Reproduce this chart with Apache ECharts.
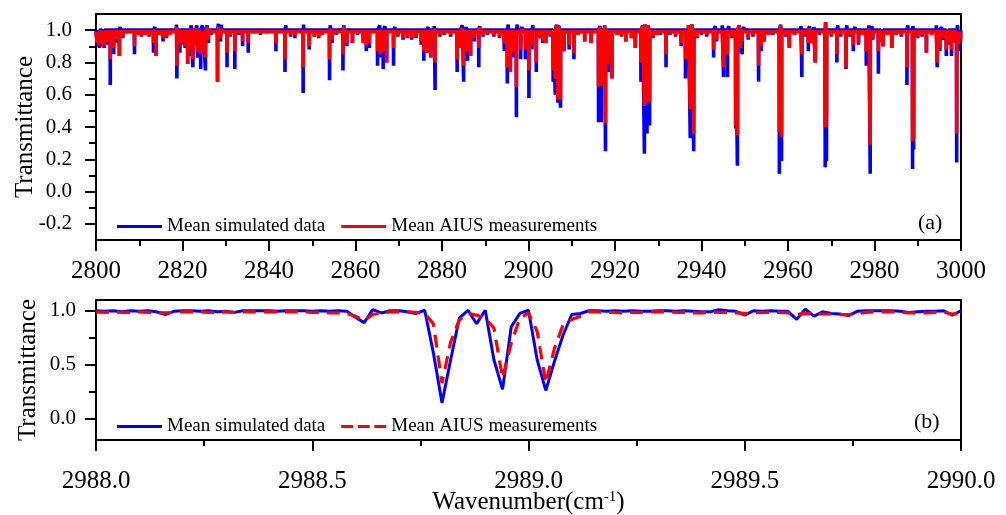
<!DOCTYPE html>
<html>
<head>
<meta charset="utf-8">
<script src="https://cdn.jsdelivr.net/npm/echarts@6/dist/echarts.min.js"></script>
<style>
html,body{margin:0;padding:0;background:#fff;}
#chart{width:1006px;height:515px;}
</style>
</head>
<body>
<div id="chart"></div>
<script>
// ---------- DATA ----------
// Panel (a): absorption lines [wavenumber, mean simulated minimum, mean AIUS minimum]
const topDips = [
[2800.3,0.90,0.92],[2800.8,0.89,0.91],[2801.4,0.90,0.92],[2801.9,0.89,0.90],[2802.5,0.91,0.93],
[2803.3,0.66,0.82],[2804.1,0.85,0.89],[2804.8,0.92,0.94],[2805.4,0.84,0.84],[2806.2,0.95,0.96],
[2807.0,0.98,0.98],[2808.9,0.85,0.90],[2809.6,0.97,0.97],[2810.5,0.96,0.97],[2811.4,0.97,0.97],
[2812.3,0.96,0.97],[2813.3,0.86,0.92],[2813.9,0.84,0.84],[2814.6,0.97,0.97],[2815.5,0.93,0.95],
[2816.3,0.95,0.96],[2817.0,0.97,0.97],[2818.7,0.70,0.78],[2819.4,0.86,0.92],[2820.0,0.91,0.92],
[2820.6,0.89,0.90],[2821.2,0.79,0.79],[2821.8,0.84,0.88],[2822.4,0.77,0.82],[2823.0,0.91,0.92],
[2823.5,0.83,0.87],[2824.2,0.76,0.85],[2824.8,0.88,0.90],[2825.3,0.75,0.83],[2826.0,0.92,0.94],
[2826.6,0.97,0.98],[2828.1,0.68,0.68],[2828.8,0.93,0.95],[2830.3,0.77,0.86],[2831.0,0.96,0.97],
[2832.1,0.76,0.87],[2833.0,0.97,0.98],[2833.9,0.90,0.93],[2835.2,0.86,0.92],[2836.5,0.98,0.98],
[2838.0,0.97,0.98],[2839.5,0.98,0.98],[2841.6,0.87,0.92],[2843.7,0.74,0.82],[2845.0,0.96,0.97],
[2846.0,0.95,0.97],[2847.9,0.61,0.77],[2849.3,0.88,0.90],[2850.5,0.96,0.96],[2851.5,0.95,0.96],
[2852.3,0.97,0.97],[2854.0,0.69,0.82],[2854.6,0.92,0.94],[2855.5,0.97,0.98],[2857.1,0.75,0.85],
[2858.0,0.90,0.92],[2859.3,0.92,0.92],[2860.5,0.97,0.98],[2861.8,0.92,0.92],[2862.5,0.87,0.90],
[2863.2,0.89,0.92],[2865.1,0.78,0.87],[2865.7,0.83,0.85],[2866.4,0.76,0.87],[2867.2,0.80,0.80],
[2868.8,0.78,0.89],[2869.8,0.96,0.97],[2871.0,0.94,0.95],[2872.0,0.95,0.96],[2873.0,0.94,0.95],
[2874.0,0.95,0.96],[2875.2,0.91,0.93],[2875.8,0.81,0.87],[2876.5,0.86,0.86],[2877.4,0.83,0.83],
[2878.4,0.63,0.80],[2879.5,0.96,0.97],[2880.5,0.97,0.98],[2882.0,0.96,0.97],[2883.5,0.74,0.82],
[2884.2,0.89,0.89],[2885.0,0.68,0.78],[2885.9,0.81,0.87],[2886.6,0.84,0.84],[2887.5,0.93,0.95],
[2888.5,0.77,0.89],[2889.5,0.96,0.97],[2890.5,0.97,0.98],[2892.0,0.96,0.97],[2893.3,0.95,0.96],
[2894.4,0.87,0.92],[2895.1,0.67,0.77],[2895.8,0.74,0.74],[2896.5,0.83,0.86],[2897.2,0.46,0.65],
[2898.2,0.82,0.88],[2899.3,0.82,0.88],[2900.1,0.58,0.75],[2900.8,0.88,0.91],[2901.8,0.74,0.80],
[2902.6,0.95,0.96],[2903.3,0.92,0.93],[2904.0,0.92,0.92],[2905.0,0.96,0.97],[2905.7,0.68,0.75],
[2906.2,0.60,0.70],[2906.8,0.55,0.57],[2907.4,0.52,0.57],[2908.2,0.87,0.87],[2909.4,0.88,0.91],
[2910.5,0.82,0.86],[2911.5,0.97,0.97],[2913.0,0.93,0.93],[2914.5,0.92,0.92],[2916.2,0.43,0.65],
[2916.8,0.43,0.66],[2917.8,0.25,0.42],[2918.4,0.74,0.79],[2919.3,0.70,0.70],[2920.5,0.97,0.97],
[2921.5,0.96,0.97],[2922.5,0.93,0.93],[2923.8,0.95,0.95],[2924.7,0.89,0.89],[2926.0,0.68,0.80],
[2926.8,0.235,0.53],[2927.4,0.36,0.55],[2928.0,0.41,0.56],[2928.8,0.95,0.96],[2929.6,0.97,0.97],
[2930.5,0.97,0.98],[2931.8,0.77,0.85],[2932.7,0.97,0.98],[2934.0,0.96,0.97],[2935.3,0.90,0.92],
[2936.3,0.70,0.82],[2937.4,0.33,0.51],[2938.2,0.25,0.36],[2939.0,0.95,0.96],[2940.0,0.97,0.98],
[2941.2,0.96,0.97],[2942.8,0.83,0.88],[2943.5,0.93,0.94],[2945.1,0.71,0.77],[2946.0,0.71,0.85],
[2947.0,0.95,0.96],[2947.9,0.39,0.41],[2948.3,0.16,0.35],[2949.0,0.86,0.89],[2949.4,0.85,0.93],
[2950.8,0.94,0.95],[2951.9,0.96,0.97],[2953.2,0.68,0.78],[2953.8,0.87,0.90],[2954.5,0.93,0.93],
[2955.5,0.97,0.97],[2956.5,0.97,0.98],[2958.0,0.11,0.37],[2958.5,0.19,0.34],[2959.5,0.96,0.97],
[2960.3,0.89,0.89],[2961.5,0.97,0.97],[2963.2,0.71,0.85],[2964.0,0.96,0.97],[2964.7,0.87,0.92],
[2965.3,0.92,0.92],[2966.3,0.80,0.80],[2967.3,0.97,0.98],[2968.6,0.15,0.40],[2968.9,0.19,0.45],
[2970.0,0.96,0.97],[2971.3,0.80,0.85],[2972.2,0.96,0.97],[2973.4,0.76,0.77],[2974.3,0.96,0.97],
[2975.1,0.87,0.91],[2976.3,0.91,0.92],[2977.2,0.97,0.97],[2978.1,0.78,0.87],[2979.0,0.11,0.29],
[2979.6,0.94,0.95],[2980.9,0.73,0.87],[2981.5,0.93,0.94],[2982.0,0.90,0.90],[2983.0,0.97,0.97],
[2984.0,0.89,0.89],[2985.0,0.97,0.97],[2986.2,0.96,0.97],[2987.5,0.66,0.77],[2988.8,0.14,0.31],
[2989.05,0.26,0.33],[2990.0,0.95,0.96],[2991.0,0.96,0.97],[2992.0,0.86,0.86],[2993.2,0.97,0.97],
[2994.5,0.77,0.80],[2995.1,0.87,0.89],[2995.8,0.94,0.95],[2996.6,0.84,0.88],[2997.1,0.91,0.92],
[2997.8,0.84,0.88],[2998.4,0.92,0.93],[2999.0,0.18,0.36],[2999.5,0.87,0.92],[2999.9,0.93,0.95]
];
// Panel (a): upward noise spikes [wavenumber, simulated, AIUS]
const topSpikes = [
[2805.6,1.02,1.00],[2813.6,1.02,1.00],[2818.6,1.035,1.02],[2822.0,1.03,1.01],[2823.3,1.03,1.01],
[2824.6,1.03,1.00],[2825.7,1.03,1.02],[2828.3,1.04,1.02],[2829.0,1.035,1.01],[2843.9,1.03,1.00],
[2848.0,1.035,1.00],[2854.2,1.03,1.01],[2857.3,1.03,1.02],[2865.6,1.03,1.00],[2866.8,1.025,1.00],
[2869.1,1.02,1.00],[2876.8,1.02,1.00],[2878.2,1.025,1.01],[2884.7,1.03,1.01],[2885.6,1.02,1.00],
[2888.7,1.025,1.02],[2895.3,1.035,1.00],[2897.4,1.035,1.00],[2898.5,1.02,1.01],[2901.0,1.03,1.00],
[2906.5,1.035,1.03],[2907.0,1.03,1.025],[2916.5,1.025,1.02],[2917.6,1.03,1.03],[2926.4,1.03,1.03],
[2927.0,1.035,1.035],[2927.7,1.03,1.03],[2937.0,1.03,1.03],[2937.8,1.035,1.035],[2943.2,1.025,1.00],
[2944.8,1.03,1.00],[2946.3,1.025,1.00],[2948.7,1.03,1.03],[2949.8,1.02,1.00],[2958.3,1.035,1.03],
[2963.0,1.025,1.00],[2965.0,1.025,1.01],[2966.0,1.02,1.00],[2968.7,1.05,1.05],[2971.5,1.03,1.00],
[2973.6,1.03,1.00],[2975.5,1.02,1.00],[2978.7,1.03,1.01],[2979.4,1.025,1.00],[2987.7,1.03,1.00],
[2988.9,1.025,1.00],[2994.3,1.03,1.00],[2995.5,1.02,1.00],[2999.2,1.03,1.00]
];
const topBaseSim = 1.0;
const topBaseAius = 0.99;
const topXRange = [2800, 3000];
const topYTicks = [-0.2, 0.0, 0.2, 0.4, 0.6, 0.8, 1.0];
const topYMinorTicks = [-0.1, 0.1, 0.3, 0.5, 0.7, 0.9];

// Panel (b)
const bottomWavenumber = [
2988.00,2988.02,2988.04,2988.06,2988.08,2988.10,2988.12,2988.14,2988.16,2988.18,
2988.20,2988.22,2988.24,2988.26,2988.28,2988.30,2988.32,2988.34,2988.36,2988.38,
2988.40,2988.42,2988.44,2988.46,2988.48,2988.50,2988.52,2988.54,2988.56,2988.58,
2988.60,2988.62,2988.64,2988.66,2988.68,2988.70,2988.72,2988.74,2988.76,2988.78,
2988.80,2988.82,2988.84,2988.86,2988.88,2988.90,2988.92,2988.94,2988.96,2988.98,
2989.00,2989.02,2989.04,2989.06,2989.08,2989.10,2989.12,2989.14,2989.16,2989.18,
2989.20,2989.22,2989.24,2989.26,2989.28,2989.30,2989.32,2989.34,2989.36,2989.38,
2989.40,2989.42,2989.44,2989.46,2989.48,2989.50,2989.52,2989.54,2989.56,2989.58,
2989.60,2989.62,2989.64,2989.66,2989.68,2989.70,2989.72,2989.74,2989.76,2989.78,
2989.80,2989.82,2989.84,2989.86,2989.88,2989.90,2989.92,2989.94,2989.96,2989.98,
2990.00
];
const bottomSim = [
1.0,0.995,1.0,0.99,1.0,0.995,1.0,0.99,0.965,0.995,
1.0,1.0,0.995,1.0,0.99,0.995,0.985,1.0,1.0,1.0,
1.0,0.995,1.0,1.0,1.0,0.995,1.0,0.995,1.0,0.995,
0.94,0.89,1.01,0.98,1.0,1.0,0.99,0.975,1.005,0.61,
0.145,0.545,0.93,1.005,0.88,1.005,0.545,0.27,0.85,0.975,
1.005,0.545,0.26,0.53,0.775,0.965,0.975,1.0,1.0,0.995,
1.0,0.995,1.0,0.995,0.995,1.0,1.0,0.995,1.0,0.995,
0.99,0.99,1.01,1.0,0.995,0.96,1.0,0.995,1.0,0.995,
0.995,0.92,1.015,0.95,0.99,0.975,0.97,0.955,0.995,1.0,
1.0,1.0,1.0,0.995,0.985,0.99,0.995,0.995,1.0,0.96,
1.0
];
const bottomAius = [
0.99,0.985,0.99,0.985,0.985,0.99,0.985,0.985,0.98,0.985,
0.99,0.99,0.99,0.985,0.985,0.99,0.985,0.99,0.99,0.99,
0.99,0.99,0.99,0.99,0.99,0.985,0.985,0.98,0.98,0.975,
0.95,0.91,0.965,0.98,0.99,0.99,0.99,0.985,0.975,0.88,
0.33,0.71,0.915,0.975,0.96,0.93,0.84,0.375,0.70,0.93,
0.98,0.81,0.33,0.65,0.87,0.92,0.95,0.99,0.99,0.985,
0.985,0.98,0.985,0.985,0.99,0.99,0.99,0.985,0.985,0.98,
0.98,0.985,0.985,0.985,0.98,0.975,0.98,0.985,0.985,0.985,
0.98,0.965,0.975,0.97,0.97,0.97,0.965,0.965,0.975,0.985,
0.99,0.99,0.99,0.985,0.98,0.98,0.98,0.985,0.985,0.97,
0.975
];
const bottomXRange = [2988, 2990];
const bottomYTicks = [0.0, 0.5, 1.0];
const bottomYMinorTicks = [0.25, 0.75];

const seriesNames = ['Mean simulated data', 'Mean AIUS measurements'];

// ---------- BUILD ----------
const HALF_WIDTH = 0.04;
function buildSpectrum(col, base) {
  const ev = topDips.concat(topSpikes).slice().sort((a, b) => a[0] - b[0]);
  const pts = [[topXRange[0], base]];
  ev.forEach(e => {
    pts.push([e[0] - HALF_WIDTH, base], [e[0], e[col]], [e[0] + HALF_WIDTH, base]);
  });
  pts.push([topXRange[1], base]);
  return pts;
}
const zip = (xs, ys) => xs.map((x, i) => [x, ys[i]]);

const FONT = 'Liberation Serif';
const BLUE = '#0000ff';
const RED = '#ff0000';
const black = '#000';

function xAxisCfg(grid, range, interval, fmt, margin, extra) {
  return Object.assign({
    type: 'value', gridIndex: grid, min: range[0], max: range[1], interval: interval,
    axisLine: { show: true, onZero: false, lineStyle: { color: black, width: 2 } },
    axisTick: { show: true, length: 11, lineStyle: { color: black, width: 2 } },
    minorTick: { show: true, splitNumber: 2, length: 6, lineStyle: { color: black, width: 2 } },
    axisLabel: { fontFamily: FONT, fontSize: 25, color: black, margin: margin, formatter: fmt },
    splitLine: { show: false }, minorSplitLine: { show: false }
  }, extra || {});
}
function yAxisMajor(grid, min, max, ticks, margin, extra) {
  return Object.assign({
    type: 'value', gridIndex: grid, min: min, max: max, position: 'left',
    axisLine: { show: true, onZero: false, lineStyle: { color: black, width: 2 } },
    axisTick: { show: true, length: 11, customValues: ticks, lineStyle: { color: black, width: 2 } },
    axisLabel: { fontFamily: FONT, fontSize: 21, color: black, margin: margin, customValues: ticks,
      formatter: v => v.toFixed(1) },
    splitLine: { show: false },
    nameLocation: 'middle',
    nameMoveOverlap: false,
    nameTextStyle: { fontFamily: FONT, fontSize: 25, color: black }
  }, extra || {});
}
function yAxisMinor(grid, min, max, ticks) {
  return {
    type: 'value', gridIndex: grid, min: min, max: max, position: 'left', offset: 0,
    axisLine: { show: false },
    axisTick: { show: true, length: 7, customValues: ticks, lineStyle: { color: black, width: 2 } },
    axisLabel: { show: false },
    splitLine: { show: false }
  };
}

const solidIcon = 'path://M0,0H45V3H0Z';
const dashIcon = 'path://M0,0H12V3H0Z M16.5,0H28.5V3H16.5Z M33,0H45V3H33Z';

const option = {
  animation: false,
  backgroundColor: '#fff',
  grid: [
    { left: 96, right: 45, top: 14, height: 226, show: true, borderColor: black, borderWidth: 2,
      backgroundColor: 'transparent', containLabel: false, outerBoundsMode: 'none' },
    { left: 96, right: 45, top: 300, height: 140, show: true, borderColor: black, borderWidth: 2,
      backgroundColor: 'transparent', containLabel: false, outerBoundsMode: 'none' }
  ],
  xAxis: [
    xAxisCfg(0, topXRange, 20, v => String(v), 19),
    xAxisCfg(1, bottomXRange, 0.5, v => v.toFixed(1), 29, {
      name: '{a|Wavenumber(cm}{s|-1}{a|)}',
      nameLocation: 'middle',
      nameGap: 50,
      nameMoveOverlap: false,
      nameTextStyle: {
        rich: {
          a: { fontFamily: FONT, fontSize: 25, color: black },
          s: { fontFamily: FONT, fontSize: 15, color: black, verticalAlign: 'top' }
        }
      }
    })
  ],
  yAxis: [
    yAxisMajor(0, -0.3, 1.1, topYTicks, 24, { name: 'Transmittance', nameGap: 58 }),
    yAxisMinor(0, -0.3, 1.1, topYMinorTicks),
    yAxisMajor(1, -0.2, 1.1, bottomYTicks, 20, { name: 'Transmittance', nameGap: 55 }),
    yAxisMinor(1, -0.2, 1.1, bottomYMinorTicks)
  ],
  legend: [
    {
      left: 117, top: 217, itemWidth: 45, itemHeight: 3, itemGap: 16, selectedMode: false, padding: 0,
      textStyle: { fontFamily: FONT, fontSize: 19, color: black },
      data: [{ name: seriesNames[0], icon: solidIcon }, { name: seriesNames[1], icon: solidIcon }]
    },
    {
      left: 117, top: 417, itemWidth: 45, itemHeight: 3, itemGap: 16, selectedMode: false, padding: 0,
      textStyle: { fontFamily: FONT, fontSize: 19, color: black },
      data: [{ name: seriesNames[0], icon: solidIcon }, { name: seriesNames[1], icon: dashIcon }]
    }
  ],
  graphic: [
    { type: 'text', left: 918, top: 212, style: { text: '(a)', fontFamily: FONT, fontSize: 22, fill: black } },
    { type: 'text', left: 914, top: 411, style: { text: '(b)', fontFamily: FONT, fontSize: 22, fill: black } }
  ],
  series: [
    {
      name: seriesNames[0], type: 'line', xAxisIndex: 0, yAxisIndex: 0,
      data: buildSpectrum(1, topBaseSim), symbol: 'none', sampling: null,
      color: BLUE, lineStyle: { color: BLUE, width: 3.6, join: 'bevel' }, z: 2
    },
    {
      name: seriesNames[1], type: 'line', xAxisIndex: 0, yAxisIndex: 0,
      data: buildSpectrum(2, topBaseAius), symbol: 'none', sampling: null,
      color: RED, lineStyle: { color: RED, width: 3.6, join: 'bevel' }, z: 3
    },
    {
      name: seriesNames[0], type: 'line', xAxisIndex: 1, yAxisIndex: 2,
      data: zip(bottomWavenumber, bottomSim), symbol: 'none',
      color: BLUE, lineStyle: { color: BLUE, width: 3 }, z: 2
    },
    {
      name: seriesNames[1], type: 'line', xAxisIndex: 1, yAxisIndex: 2,
      data: zip(bottomWavenumber, bottomAius), symbol: 'none',
      color: RED, lineStyle: { color: RED, width: 3.2, type: [13, 8] }, z: 3
    }
  ]
};

const chart = echarts.init(document.getElementById('chart'), null, { renderer: 'canvas' });
chart.setOption(option);
</script>
</body>
</html>
